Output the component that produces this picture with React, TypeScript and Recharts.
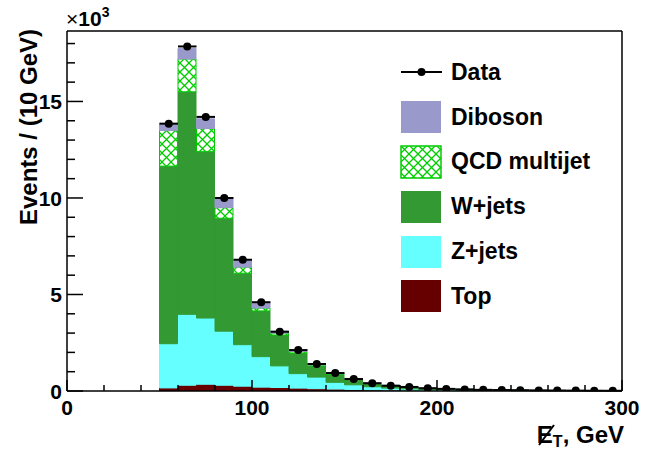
import { ComposedChart, Bar, Scatter, ErrorBar, XAxis, YAxis, Legend, Label } from "recharts"

// bin centres in GeV (10 GeV bins from 50 to 300)
const binCenters = [55, 65, 75, 85, 95, 105, 115, 125, 135, 145, 155, 165, 175, 185, 195, 205, 215, 225, 235, 245, 255, 265, 275, 285, 295]
const binHalfWidth = 5

// contributions per bin, in units of 10^3 events
const topEvents = [0.16, 0.3, 0.35, 0.3, 0.25, 0.2, 0.18, 0.15, 0.12, 0.1, 0.08, 0.06, 0.05, 0.04, 0.03, 0.025, 0.02, 0.015, 0.012, 0.01, 0.008, 0.006, 0.005, 0.004, 0.003]
const zjetsEvents = [2.29, 3.67, 3.43, 2.8, 2.15, 1.58, 1.12, 0.75, 0.6, 0.35, 0.24, 0.16, 0.1, 0.07, 0.05, 0.035, 0.025, 0.02, 0.015, 0.01, 0.007, 0.006, 0.005, 0.004, 0.003]
const wjetsEvents = [9.2, 11.53, 8.62, 5.85, 3.7, 2.37, 1.6, 1.07, 0.58, 0.4, 0.28, 0.18, 0.12, 0.09, 0.06, 0.04, 0.035, 0.025, 0.018, 0.015, 0.012, 0.008, 0.006, 0.004, 0.004]
const qcdEvents = [1.85, 1.7, 1.2, 0.55, 0.32, 0.15, 0.1, 0.08, 0.05, 0.05, 0.02, 0.02, 0.02, 0.01, 0.01, 0.01, 0.005, 0.005, 0.005, 0.005, 0.005, 0.005, 0.005, 0.005, 0.005]
const dibosonEvents = [0.35, 0.55, 0.5, 0.45, 0.33, 0.25, 0.1, 0.07, 0.05, 0.04, 0.03, 0.02, 0.01, 0.01, 0.01, 0.01, 0.005, 0.005, 0.005, 0.005, 0.005, 0.005, 0.005, 0.005, 0.005]
const dataEvents = [13.85, 17.85, 14.2, 10.0, 6.8, 4.6, 3.07, 2.12, 1.4, 0.93, 0.62, 0.4, 0.27, 0.21, 0.14, 0.11, 0.08, 0.06, 0.05, 0.04, 0.03, 0.025, 0.02, 0.015, 0.012]

const xTicks = [0, 20, 40, 60, 80, 100, 120, 140, 160, 180, 200, 220, 240, 260, 280, 300]
const yTicks = [0, 1, 2, 3, 4, 5, 6, 7, 8, 9, 10, 11, 12, 13, 14, 15, 16, 17, 18]

const legendItems = [
  { name: "Data", color: "#000000" },
  { name: "Diboson", color: "#9999cc" },
  { name: "QCD multijet", color: "url(#hatchLegend)" },
  { name: "W+jets", color: "#339933" },
  { name: "Z+jets", color: "#66ffff" },
  { name: "Top", color: "#660000" },
]

const rows = binCenters.map((x, i) => ({
  x,
  top: topEvents[i],
  zjets: zjetsEvents[i],
  wjets: wjetsEvents[i],
  qcd: qcdEvents[i],
  diboson: dibosonEvents[i],
  data: dataEvents[i],
  xerr: binHalfWidth,
}))

const FONT = "'Liberation Sans', Arial, sans-serif"
const HATCH = "#00cc00"

function YTick(props: any) {
  const { x, y, payload } = props
  const major = payload.value % 5 === 0
  return (
    <g>
      <line x1={x} x2={x + (major ? 16 : 8)} y1={y} y2={y} stroke="#000" strokeWidth={1.5} />
      {major && (
        <text x={x - 5} y={y} dy="0.36em" textAnchor="end" fontSize={21} fontWeight="bold" fontFamily={FONT}>
          {payload.value}
        </text>
      )}
    </g>
  )
}

function XTick(props: any) {
  const { x, y, payload } = props
  const major = payload.value % 100 === 0
  return (
    <g>
      <line x1={x} x2={x} y1={y} y2={y - (major ? 11 : 6)} stroke="#000" strokeWidth={1.5} />
      {major && (
        <text x={x} y={y + 24} textAnchor="middle" fontSize={21} fontWeight="bold" fontFamily={FONT}>
          {payload.value}
        </text>
      )}
    </g>
  )
}

function HatchPattern({ id }: { id: string }) {
  return (
    <pattern id={id} patternUnits="userSpaceOnUse" width={9} height={9}>
      <rect width={9} height={9} fill="#fff" />
      <path d="M0,0 L9,9 M9,0 L0,9" stroke={HATCH} strokeWidth={1.3} />
    </pattern>
  )
}

function LegendBox() {
  return (
    <div style={{ fontFamily: FONT }}>
      {legendItems.map((item) => (
        <div key={item.name} style={{ display: "flex", alignItems: "center", height: 44.8 }}>
          <svg width={42} height={34}>
            <defs>
              <HatchPattern id="hatchLegend" />
            </defs>
            {item.name === "Data" ? (
              <g>
                <line x1={1} x2={42} y1={17} y2={17} stroke="#000" strokeWidth={2} />
                <circle cx={21.5} cy={17} r={4} fill="#000" />
              </g>
            ) : (
              <rect
                x={1}
                y={1}
                width={40}
                height={32}
                fill={item.color}
                stroke={item.name === "QCD multijet" ? HATCH : "none"}
                strokeWidth={1.5}
              />
            )}
          </svg>
          <span style={{ marginLeft: 9, fontSize: 23, fontWeight: "bold", color: "#000" }}>{item.name}</span>
        </div>
      ))}
    </div>
  )
}

export default function App() {
  return (
    <div style={{ position: "absolute", left: 0, top: 0, width: 645, height: 451, background: "#fff" }}>
      <ComposedChart
        width={645}
        height={451}
        data={rows}
        margin={{ top: 30, right: 22, bottom: 59, left: 66 }}
        barCategoryGap={0}
        barGap={0}
      >
        <defs>
          <HatchPattern id="hatchQcd" />
        </defs>
        <XAxis
          dataKey="x"
          type="number"
          domain={[0, 300]}
          ticks={xTicks}
          interval={0}
          height={1}
          tickSize={0}
          tickMargin={0}
          tickLine={false}
          tick={<XTick />}
          axisLine={{ stroke: "#000", strokeWidth: 1.5 }}
        >
          <Label
            content={() => (
              <g fontFamily={FONT} fontWeight="bold">
                <text x={624} y={443} textAnchor="end" fontSize={24}>
                  E<tspan fontSize={16} dy={4}>T</tspan>
                  <tspan dy={-4}>, GeV</tspan>
                </text>
                <line x1={539} y1={445} x2={554} y2={425} stroke="#000" strokeWidth={2} />
              </g>
            )}
          />
        </XAxis>
        <XAxis
          xAxisId="frame"
          orientation="top"
          type="number"
          domain={[0, 300]}
          height={1}
          tick={false}
          tickLine={false}
          axisLine={{ stroke: "#000", strokeWidth: 1.5 }}
        />
        <YAxis
          type="number"
          domain={[0, 18.65]}
          ticks={yTicks}
          interval={0}
          width={1}
          tickSize={0}
          tickMargin={0}
          tickLine={false}
          tick={<YTick />}
          allowDataOverflow
          axisLine={{ stroke: "#000", strokeWidth: 1.5 }}
        >
          <Label
            content={() => (
              <g fontFamily={FONT} fontWeight="bold">
                <text x={28} y={127} transform="rotate(-90 28 127)" dy="0.36em" textAnchor="middle" fontSize={24}>
                  Events / (10 GeV)
                </text>
                <text x={66} y={26} style={{ fontSize: 21 }}>
                  <tspan style={{ fontWeight: "normal" }}>×</tspan>10
                  <tspan style={{ fontSize: 14 }} dy={-9}>3</tspan>
                </text>
              </g>
            )}
          />
        </YAxis>
        <YAxis
          yAxisId="frame"
          orientation="right"
          domain={[0, 1]}
          width={1}
          tick={false}
          tickLine={false}
          axisLine={{ stroke: "#000", strokeWidth: 1.5 }}
        />
        <Bar dataKey="top" stackId="mc" fill="#660000" stroke="#660000" strokeWidth={1} isAnimationActive={false} />
        <Bar dataKey="zjets" stackId="mc" fill="#66ffff" stroke="#66ffff" strokeWidth={1} isAnimationActive={false} />
        <Bar dataKey="wjets" stackId="mc" fill="#339933" stroke="#339933" strokeWidth={1} isAnimationActive={false} />
        <Bar dataKey="qcd" stackId="mc" fill="url(#hatchQcd)" stroke={HATCH} strokeWidth={1} isAnimationActive={false} />
        <Bar dataKey="diboson" stackId="mc" fill="#9999cc" stroke="#9999cc" strokeWidth={1} isAnimationActive={false} />
        <Scatter dataKey="data" fill="#000" isAnimationActive={false} shape={(p: any) => <circle cx={p.cx} cy={p.cy} r={4} fill="#000" />}>
          <ErrorBar dataKey="xerr" direction="x" width={0} stroke="#000" strokeWidth={2} />
        </Scatter>
        <Legend
          layout="horizontal"
          verticalAlign="middle"
          content={<LegendBox />}
          wrapperStyle={{ position: "absolute", left: 400, top: 50, width: 220 }}
        />
      </ComposedChart>
    </div>
  )
}
